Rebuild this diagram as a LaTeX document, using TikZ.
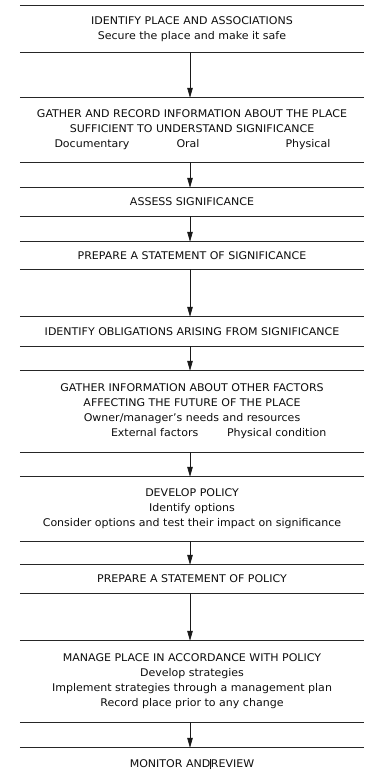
\documentclass[tikz,border=0pt]{standalone}
\usepackage{fontspec}
\setmainfont{DejaVu Sans}[FakeStretch=1.04]
\usetikzlibrary{arrows.meta}
\begin{document}
\begin{tikzpicture}[x=1pt,y=-1pt,
  blk/.style={minimum width=344pt, inner sep=0pt, align=center,
    font=\fontsize{10.6}{15}\selectfont, text=black!95},
  rulel/.style={line width=0.9pt, draw=black!85},
  flow/.style={line width=0.7pt, draw=black!90,
    -{Triangle[length=10pt,width=5.5pt]}}]
\useasboundingbox (0,0) rectangle (364,775);

\node[blk, minimum height=46pt] (b1) at (192,29)
  {IDENTIFY PLACE AND ASSOCIATIONS\\Secure the place and make it safe};
\node[blk, minimum height=64pt] (b2) at (192,130)
  {GATHER AND RECORD INFORMATION ABOUT THE PLACE\\
   SUFFICIENT TO UNDERSTAND SIGNIFICANCE\\
   \makebox[275pt][l]{\rlap{Documentary}\hspace{122pt}\rlap{Oral}\hspace{109pt}\rlap{Physical}}};
\node[blk, minimum height=28pt] (b3) at (192,202) {ASSESS SIGNIFICANCE};
\node[blk, minimum height=27pt] (b4) at (192,255.5) {PREPARE A STATEMENT OF SIGNIFICANCE};
\node[blk, minimum height=29pt] (b5) at (192,331.5) {IDENTIFY OBLIGATIONS ARISING FROM SIGNIFICANCE};
\node[blk, minimum height=81pt] (b6) at (192,411.5)
  {GATHER INFORMATION ABOUT OTHER FACTORS\\
   AFFECTING THE FUTURE OF THE PLACE\\
   Owner/manager's needs and resources\\
   \hspace*{52pt}\makebox[214pt][l]{\rlap{External factors}\hspace{116pt}\rlap{Physical condition}}};
\node[blk, minimum height=64pt] (b7) at (192,509)
  {DEVELOP POLICY\\Identify options\\Consider options and test their impact on significance};
\node[blk, minimum height=28pt] (b8) at (192,579) {PREPARE A STATEMENT OF POLICY};
\node[blk, minimum height=81pt] (b9) at (192,681.5)
  {MANAGE PLACE IN ACCORDANCE WITH POLICY\\
   Develop strategies\\
   Implement strategies through a management plan\\
   Record place prior to any change};
\node[blk, minimum height=32pt] (b10) at (192,764)
  {MONITOR AND\rule[-1.5pt]{0.6pt}{10pt}REVIEW};

\foreach \n in {b1,b2,b3,b4,b5,b6,b7,b8,b9}
  \draw[rulel] (\n.north west) -- (\n.north east) (\n.south west) -- (\n.south east);
\draw[rulel] (b10.north west) -- (b10.north east);

\foreach \a/\b in {b1/b2,b2/b3,b3/b4,b4/b5,b5/b6,b6/b7,b7/b8,b8/b9,b9/b10}
  \draw[flow] ([xshift=-2pt]\a.south) -- ([xshift=-2pt]\b.north);
\end{tikzpicture}
\end{document}
